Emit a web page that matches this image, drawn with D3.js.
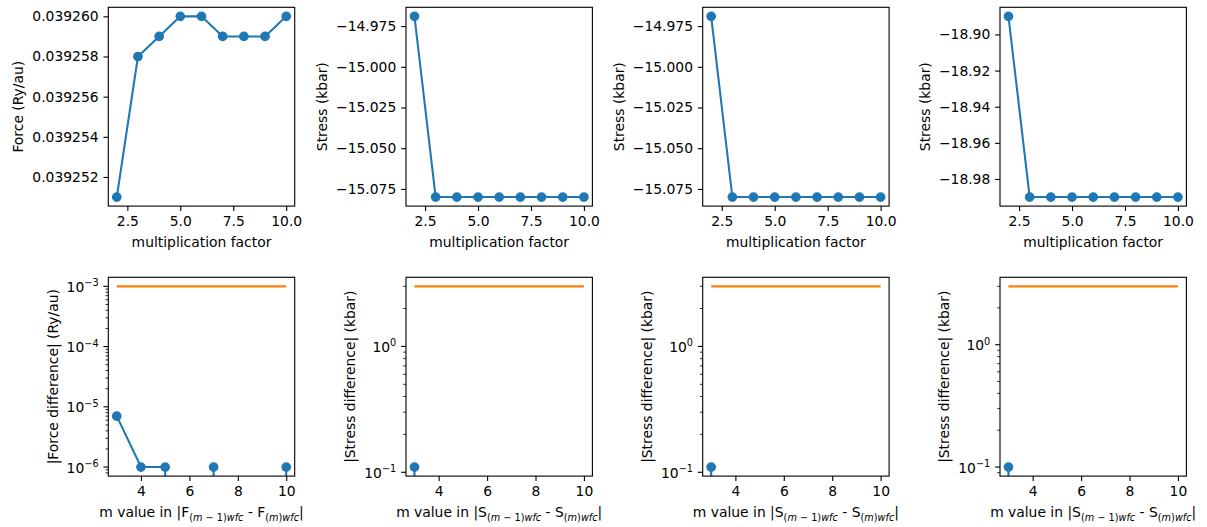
<!DOCTYPE html>
<html>
<head>
<meta charset="utf-8">
<script src="https://cdn.jsdelivr.net/npm/d3@7"></script>
<style>
  body { margin: 0; background: #fff; }
  svg { display: block; font-family: "DejaVu Sans", sans-serif; }
</style>
</head>
<body>
<div id="chart"></div>
<script>
// values
var mFactor = [2, 3, 4, 5, 6, 7, 8, 9, 10]
var forceValues = [0.039251, 0.039258, 0.039259, 0.039260, 0.039260, 0.039259, 0.039259, 0.039259, 0.039260]
var stressA = [-14.969, -15.08, -15.08, -15.08, -15.08, -15.08, -15.08, -15.08, -15.08]
var stressB = [-14.969, -15.08, -15.08, -15.08, -15.08, -15.08, -15.08, -15.08, -15.08]
var stressC = [-18.89, -18.99, -18.99, -18.99, -18.99, -18.99, -18.99, -18.99, -18.99]

var mDiff = [3, 4, 5, 6, 7, 8, 9, 10]
var forceDiff = [7e-6, 1e-6, 1e-6, 0, 1e-6, 0, 0, 1e-6]
var stressDiffA = [0.11, 0, 0, 0, 0, 0, 0, 0]
var stressDiffB = [0.11, 0, 0, 0, 0, 0, 0, 0]
var stressDiffC = [0.10, 0, 0, 0, 0, 0, 0, 0]
var forceThreshold = 1e-3
var stressThreshold = 3

var forceTicks = [0.039252, 0.039254, 0.039256, 0.039258, 0.039260]
var stressTicksAB = [-14.975, -15.000, -15.025, -15.050, -15.075]
var stressTicksC = [-18.90, -18.92, -18.94, -18.96, -18.98]
var factorTicks = [2.5, 5.0, 7.5, 10.0]
var mTicks = [4, 6, 8, 10]

var W = 1207, H = 527
var pt = 100 / 72
var fs = 10 * pt
var blue = "#1f77b4", orange = "#ff7f0e"
var colLeft = [108.3, 406, 702.7, 1000]
var rowTop = [7.3, 277.3]
var aw = 186.4, ah = 198.8

var topPanels = [
    {y: forceValues, ticks: forceTicks, fmt: d3.format(".6f"), label: "Force (Ry/au)"},
    {y: stressA, ticks: stressTicksAB, fmt: d3.format(".3f"), label: "Stress (kbar)"},
    {y: stressB, ticks: stressTicksAB, fmt: d3.format(".3f"), label: "Stress (kbar)"},
    {y: stressC, ticks: stressTicksC, fmt: d3.format(".2f"), label: "Stress (kbar)"}
]
var bottomPanels = [
    {y: forceDiff, thr: forceThreshold, label: "|Force difference| (Ry/au)", sym: "F"},
    {y: stressDiffA, thr: stressThreshold, label: "|Stress difference| (kbar)", sym: "S"},
    {y: stressDiffB, thr: stressThreshold, label: "|Stress difference| (kbar)", sym: "S"},
    {y: stressDiffC, thr: stressThreshold, label: "|Stress difference| (kbar)", sym: "S"}
]

var svg = d3.select("#chart").append("svg")
    .attr("width", W)
    .attr("height", H)

function pad(ext) {
    var r = ext[1] - ext[0]
    return [ext[0] - 0.05 * r, ext[1] + 0.05 * r]
}

function styleAxis(g) {
    g.attr("font-family", null).attr("font-size", null)
    g.select(".domain").remove()
    g.selectAll(".tick line").attr("stroke", "#000").attr("stroke-width", 0.8 * pt)
    g.selectAll(".tick text").attr("fill", "#000").attr("font-size", fs)
}

function addYLabel(g, yAxisG, text) {
    var bb = yAxisG.node().getBBox()
    var xb = bb.x - 4 * pt - 0.24 * fs
    g.append("text")
        .attr("transform", "translate(" + xb + "," + (ah / 2) + ") rotate(-90)")
        .attr("text-anchor", "middle")
        .attr("font-size", fs)
        .attr("fill", "#000")
        .text(text)
}

function makePanel(left, top, id) {
    var g = svg.append("g").attr("transform", "translate(" + left + "," + top + ")")
    svg.append("clipPath").attr("id", id)
        .append("rect").attr("width", aw).attr("height", ah)
    return g
}

function dots(sel, pts, x, y) {
    sel.selectAll("circle").data(pts).enter().append("circle")
        .attr("cx", function (d) { return x(d[0]) })
        .attr("cy", function (d) { return y(d[1]) })
        .attr("r", 3 * pt).attr("fill", blue)
        .attr("stroke", blue).attr("stroke-width", 1 * pt)
}

// top row: value vs multiplication factor
topPanels.forEach(function (p, i) {
    var g = makePanel(colLeft[i], rowTop[0], "clipT" + i)
    var x = d3.scaleLinear().domain(pad(d3.extent(mFactor))).range([0, aw])
    var y = d3.scaleLinear().domain(pad(d3.extent(p.y))).range([ah, 0])

    var xa = g.append("g").attr("transform", "translate(0," + ah + ")")
        .call(d3.axisBottom(x).tickValues(factorTicks).tickFormat(d3.format(".1f"))
            .tickSizeInner(3.5 * pt).tickPadding(3.5 * pt))
    styleAxis(xa)
    var ya = g.append("g")
        .call(d3.axisLeft(y).tickValues(p.ticks).tickFormat(p.fmt)
            .tickSizeInner(3.5 * pt).tickPadding(3.5 * pt))
    styleAxis(ya)

    var pts = mFactor.map(function (m, k) { return [m, p.y[k]] })
    var plot = g.append("g").attr("clip-path", "url(#clipT" + i + ")")
    plot.append("path")
        .attr("d", d3.line().x(function (d) { return x(d[0]) }).y(function (d) { return y(d[1]) })(pts))
        .attr("fill", "none").attr("stroke", blue).attr("stroke-width", 1.5 * pt)
    dots(plot, pts, x, y)

    g.append("text")
        .attr("x", aw / 2).attr("y", ah + 41)
        .attr("text-anchor", "middle").attr("font-size", fs).attr("fill", "#000")
        .text("multiplication factor")
    addYLabel(g, ya, p.label)

    g.append("rect").attr("width", aw).attr("height", ah)
        .attr("fill", "none").attr("stroke", "#000").attr("stroke-width", 0.8 * pt)
})

// bottom row: log differences with threshold
bottomPanels.forEach(function (p, i) {
    var g = makePanel(colLeft[i], rowTop[1], "clipB" + i)
    var x = d3.scaleLinear().domain(pad(d3.extent(mDiff))).range([0, aw])
    var pos = p.y.filter(function (v) { return v > 0 }).concat([p.thr])
    var le = pad([Math.log10(d3.min(pos)), Math.log10(d3.max(pos))])
    var y = d3.scaleLog().domain([Math.pow(10, le[0]), Math.pow(10, le[1])]).range([ah, 0])

    var xa = g.append("g").attr("transform", "translate(0," + ah + ")")
        .call(d3.axisBottom(x).tickValues(mTicks).tickFormat(d3.format("d"))
            .tickSizeInner(3.5 * pt).tickPadding(3.5 * pt))
    styleAxis(xa)

    // log ticks: majors at decades, minors at 2..9
    var majors = [], minors = []
    for (var e = Math.floor(le[0]); e <= Math.ceil(le[1]); e++) {
        var v = Math.pow(10, e)
        if (v >= y.domain()[0] && v <= y.domain()[1]) majors.push(e)
        for (var k = 2; k <= 9; k++) {
            var mv = k * v
            if (mv >= y.domain()[0] && mv <= y.domain()[1]) minors.push(mv)
        }
    }
    var ya = g.append("g")
    ya.selectAll("line.minor").data(minors).enter().append("line")
        .attr("x1", -2 * pt).attr("x2", 0)
        .attr("y1", function (d) { return y(d) }).attr("y2", function (d) { return y(d) })
        .attr("stroke", "#000").attr("stroke-width", 0.6 * pt)
    ya.selectAll("line.major").data(majors).enter().append("line")
        .attr("x1", -3.5 * pt).attr("x2", 0)
        .attr("y1", function (d) { return y(Math.pow(10, d)) }).attr("y2", function (d) { return y(Math.pow(10, d)) })
        .attr("stroke", "#000").attr("stroke-width", 0.8 * pt)
    var lbl = ya.selectAll("text").data(majors).enter().append("text")
        .attr("x", -7 * pt).attr("y", function (d) { return y(Math.pow(10, d)) + 5.5 })
        .attr("text-anchor", "end").attr("font-size", fs).attr("fill", "#000")
    lbl.append("tspan").text("10")
    lbl.append("tspan").attr("dy", -5.5).attr("font-size", fs * 0.7)
        .text(function (d) { return d3.format("d")(d) })

    var plot = g.append("g").attr("clip-path", "url(#clipB" + i + ")")
    plot.append("path")
        .attr("d", d3.line()([[x(mDiff[0]), y(p.thr)], [x(mDiff[mDiff.length - 1]), y(p.thr)]]))
        .attr("stroke", orange).attr("stroke-width", 1.5 * pt)
    // zero differences fall off the bottom of the log axis
    var pts = mDiff.map(function (m, k) { return [m, p.y[k]] })
    var yPix = function (v) { return v > 0 ? y(v) : ah + 1e5 }
    plot.append("path")
        .attr("d", d3.line().x(function (d) { return x(d[0]) }).y(function (d) { return yPix(d[1]) })(pts))
        .attr("fill", "none").attr("stroke", blue).attr("stroke-width", 1.5 * pt)
    dots(plot, pts.filter(function (d) { return d[1] > 0 }), x, y)

    var xl = g.append("text")
        .attr("x", aw / 2).attr("y", ah + 41)
        .attr("text-anchor", "middle").attr("font-size", fs).attr("fill", "#000")
    var sub = fs * 0.7, sh = 3.5
    xl.append("tspan").text("m value in |" + p.sym)
    xl.append("tspan").attr("dy", sh).attr("font-size", sub).text("(")
    xl.append("tspan").attr("font-size", sub).attr("font-style", "italic").text("m")
    xl.append("tspan").attr("font-size", sub).text(" \u2212 1)")
    xl.append("tspan").attr("font-size", sub).attr("font-style", "italic").text("wfc")
    xl.append("tspan").attr("dy", -sh).text(" - " + p.sym)
    xl.append("tspan").attr("dy", sh).attr("font-size", sub).text("(")
    xl.append("tspan").attr("font-size", sub).attr("font-style", "italic").text("m")
    xl.append("tspan").attr("font-size", sub).text(")")
    xl.append("tspan").attr("font-size", sub).attr("font-style", "italic").text("wfc")
    xl.append("tspan").attr("dy", -sh).text("|")

    addYLabel(g, ya, p.label)

    g.append("rect").attr("width", aw).attr("height", ah)
        .attr("fill", "none").attr("stroke", "#000").attr("stroke-width", 0.8 * pt)
})
</script>
</body>
</html>
